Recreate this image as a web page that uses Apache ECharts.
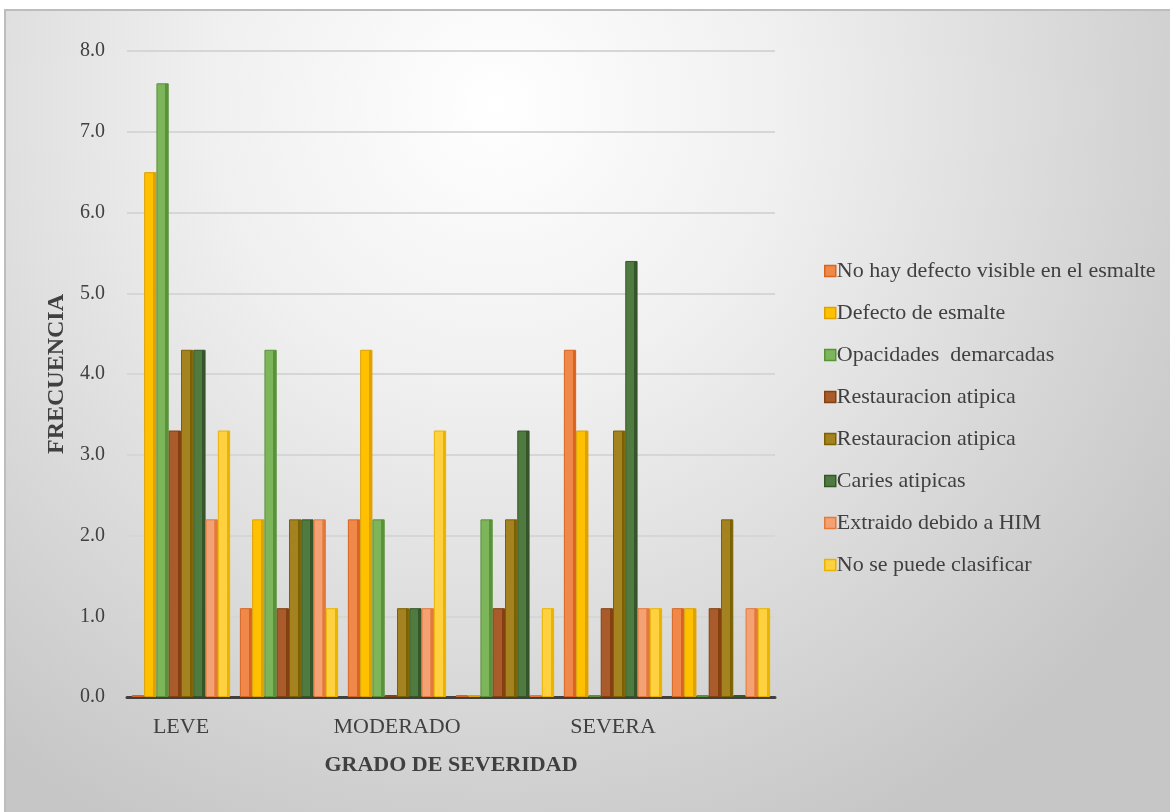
<!DOCTYPE html>
<html>
<head>
<meta charset="utf-8">
<script src="https://cdn.jsdelivr.net/npm/echarts@6/dist/echarts.min.js"></script>
<style>
html,body{margin:0;padding:0;background:#fff;}
#c{width:1170px;height:812px;}
</style>
</head>
<body>
<div id="c"></div>
<script>
const categories = ['LEVE', ' ', 'MODERADO', '  ', 'SEVERA', '   '];
const seriesNames = [
  'No hay defecto visible en el esmalte',
  'Defecto de esmalte',
  'Opacidades  demarcadas',
  'Restauracion atipica',
  'Restauracion atipica ',
  'Caries atipicas',
  'Extraido debido a HIM',
  'No se puede clasificar'
];
const noHayDefecto   = [0.0, 1.1, 2.2, 0.0, 4.3, 1.1];
const defectoEsmalte = [6.5, 2.2, 4.3, 0.0, 3.3, 1.1];
const opacidades     = [7.6, 4.3, 2.2, 2.2, 0.0, 0.0];
const restauracion1  = [3.3, 1.1, 0.0, 1.1, 1.1, 1.1];
const restauracion2  = [4.3, 2.2, 1.1, 2.2, 3.3, 2.2];
const caries         = [4.3, 2.2, 1.1, 3.3, 5.4, 0.0];
const extraido       = [2.2, 2.2, 1.1, 0.0, 1.1, 1.1];
const noClasificar   = [3.3, 1.1, 3.3, 1.1, 1.1, 1.1];
const yTicks = [0, 1, 2, 3, 4, 5, 6, 7, 8];

const seriesValues = [noHayDefecto, defectoEsmalte, opacidades, restauracion1, restauracion2, caries, extraido, noClasificar];
const fills   = ['#F0884A', '#FFC000', '#7DB55A', '#A95B2B', '#A3821F', '#507B40', '#F4A273', '#FFD040'];
const sides   = ['#D8641F', '#DDA200', '#5A923A', '#84400F', '#7C6100', '#35562A', '#E3793A', '#E8B400'];

const FONT = '"Liberation Serif", "Times New Roman", serif';

const chart = echarts.init(document.getElementById('c'), null, {renderer: 'canvas'});

const series = seriesNames.map((name, i) => ({
  name: name,
  type: 'bar',
  data: seriesValues[i],
  barGap: '0%',
  barCategoryGap: '9%',
  barMinHeight: 2,
  itemStyle: {
    color: {
      type: 'linear', x: 0, y: 0, x2: 1, y2: 0,
      colorStops: [
        {offset: 0, color: fills[i]},
        {offset: 0.72, color: fills[i]},
        {offset: 0.73, color: sides[i]},
        {offset: 1, color: sides[i]}
      ]
    },
    borderColor: sides[i],
    borderWidth: 1
  }
}));

chart.setOption({
  animation: false,
  backgroundColor: '#ffffff',
  textStyle: {fontFamily: FONT},
  graphic: [{
    type: 'rect',
    z: -100,
    silent: true,
    shape: {x: 5, y: 10, width: 1170, height: 810},
    style: {
      fill: {
        type: 'radial', x: 0.42, y: 0.12, r: 1.0,
        colorStops: [
          {offset: 0, color: '#ffffff'},
          {offset: 0.35, color: '#f0f0f0'},
          {offset: 1, color: '#c6c6c6'}
        ]
      },
      stroke: '#bdbdbd',
      lineWidth: 2
    }
  }],
  legend: {
    orient: 'vertical',
    left: 819,
    top: 255,
    itemWidth: 11,
    itemHeight: 11,
    itemGap: 20,
    icon: 'rect',
    textStyle: {fontFamily: FONT, fontSize: 22, color: '#404040', padding: [0, 0, 0, -4]},
    data: seriesNames.map((n, i) => ({name: n, itemStyle: {color: fills[i], borderColor: sides[i], borderWidth: 1.5}}))
  },
  grid: {left: 127, right: 395, top: 51, bottom: 115, containLabel: false},
  xAxis: {
    type: 'category',
    data: categories,
    name: 'GRADO DE SEVERIDAD',
    nameLocation: 'middle',
    nameGap: 57,
    nameTextStyle: {fontFamily: FONT, fontSize: 22, fontWeight: 'bold', color: '#404040'},
    axisLine: {lineStyle: {color: '#404040', width: 3}},
    axisTick: {show: false},
    axisLabel: {interval: 0, fontFamily: FONT, fontSize: 22, color: '#404040', margin: 19}
  },
  yAxis: {
    type: 'value',
    min: 0,
    max: 8,
    interval: 1,
    name: 'FRECUENCIA',
    nameLocation: 'middle',
    nameGap: 53,
    nameTextStyle: {fontFamily: FONT, fontSize: 24, fontWeight: 'bold', color: '#404040'},
    axisLine: {show: false},
    axisTick: {show: false},
    axisLabel: {fontFamily: FONT, fontSize: 20, color: '#404040', margin: 22,
      formatter: v => yTicks.indexOf(v) >= 0 ? v.toFixed(1) : ''},
    splitLine: {lineStyle: {color: '#d6d6d6', width: 2}}
  },
  series: series
});
</script>
</body>
</html>
